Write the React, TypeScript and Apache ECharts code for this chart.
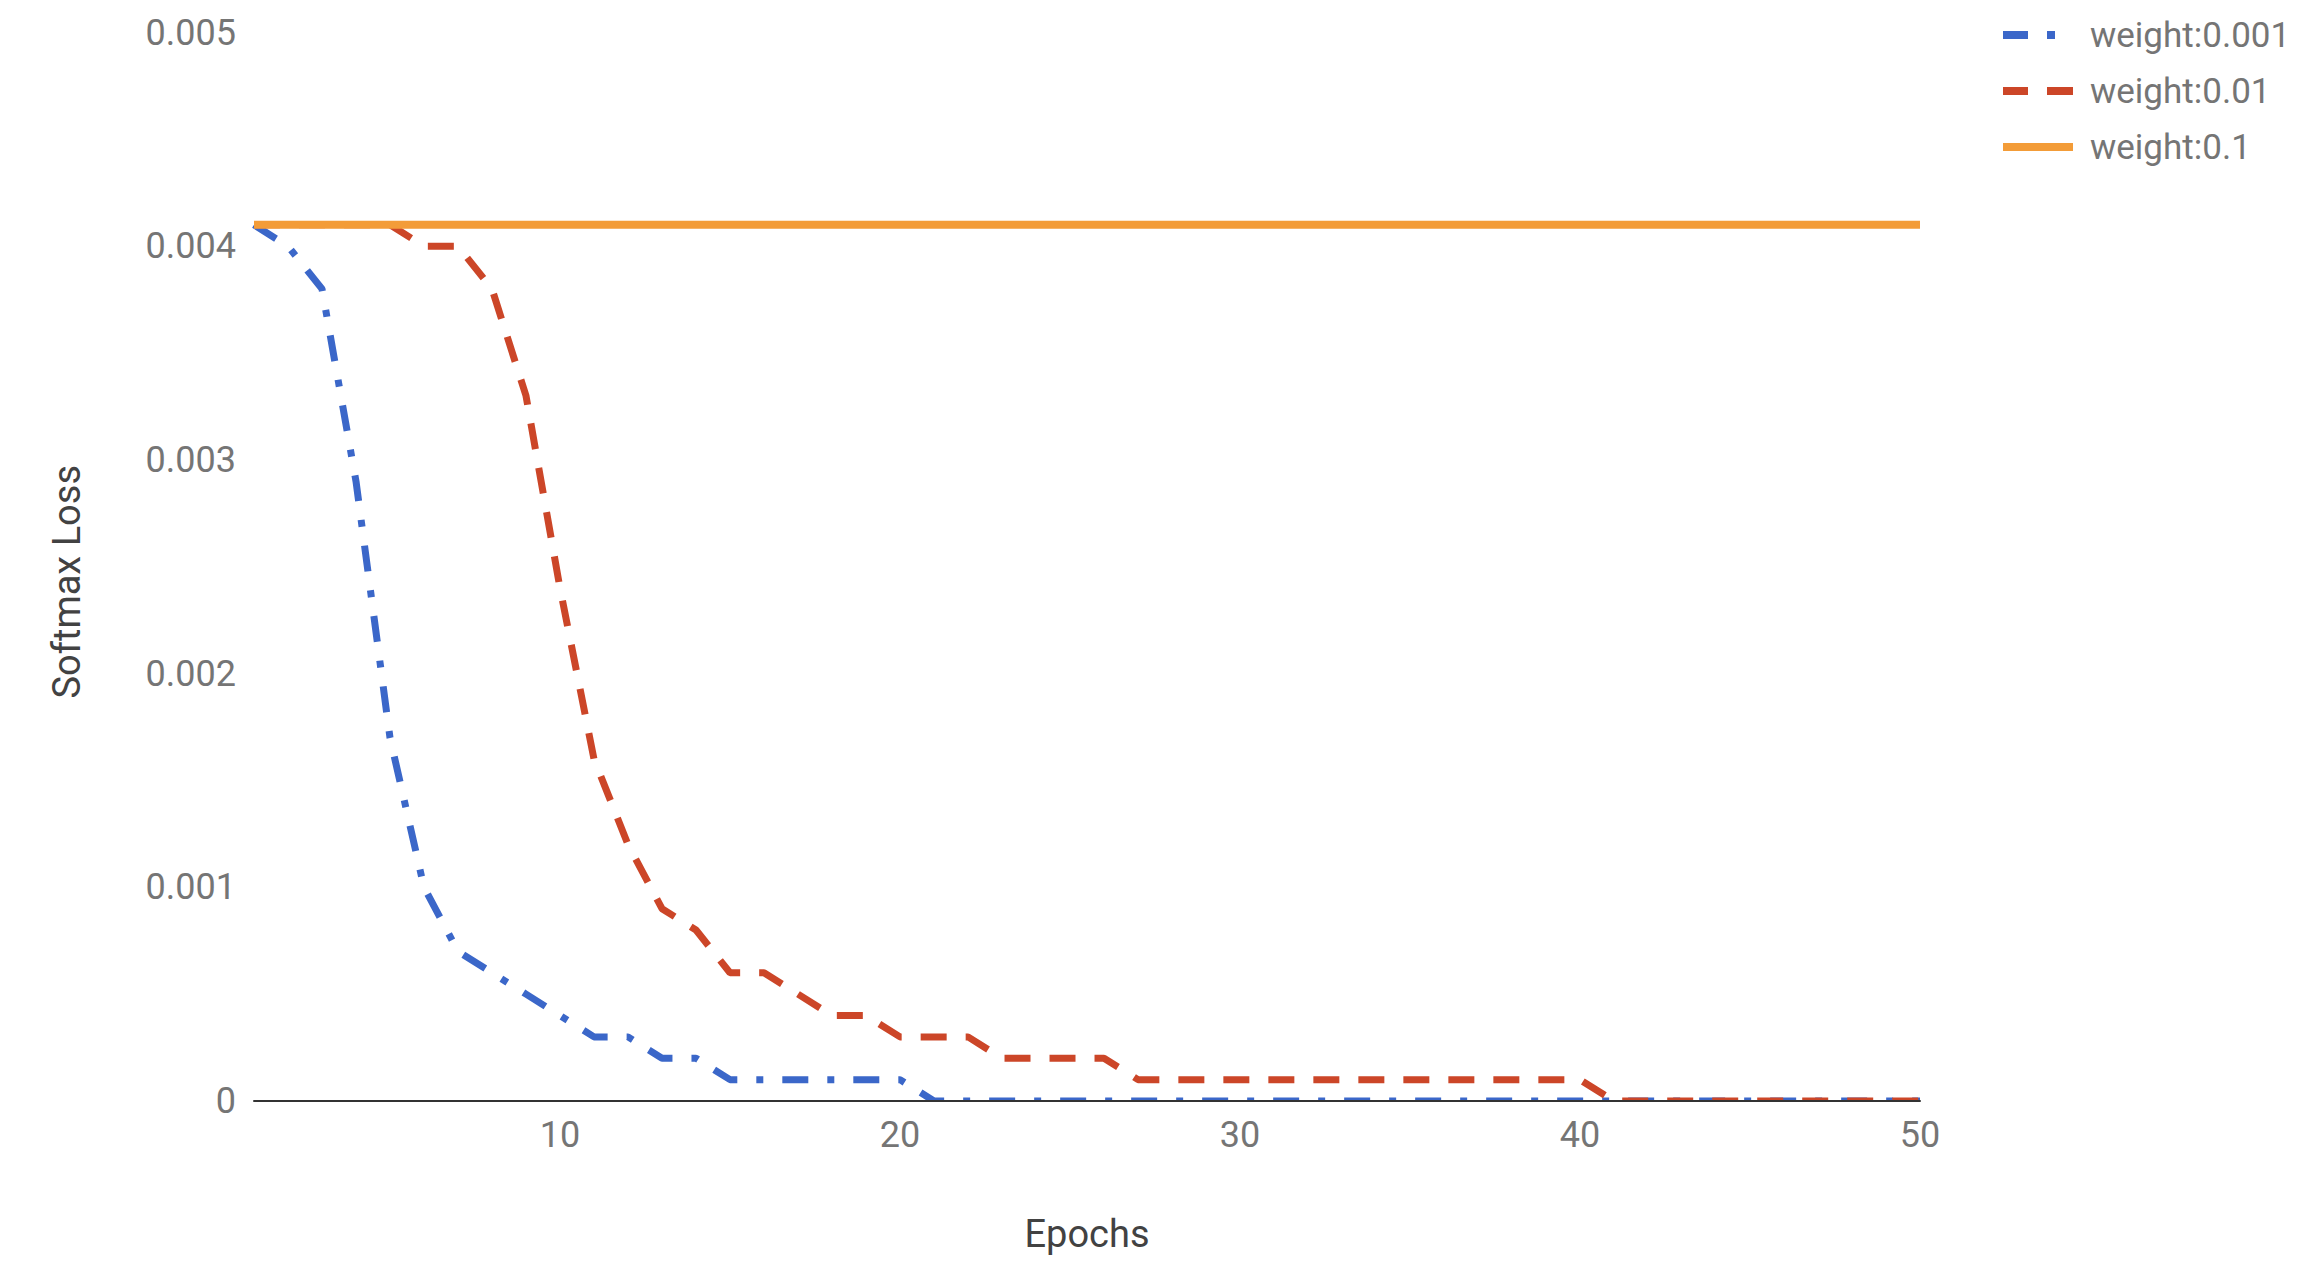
import React, { useEffect, useRef } from "react";
import * as echarts from "echarts";

const epochs = [
  "1", "2", "3", "4", "5", "6", "7", "8", "9", "10",
  "11", "12", "13", "14", "15", "16", "17", "18", "19", "20",
  "21", "22", "23", "24", "25", "26", "27", "28", "29", "30",
  "31", "32", "33", "34", "35", "36", "37", "38", "39", "40",
  "41", "42", "43", "44", "45", "46", "47", "48", "49", "50",
];

const seriesNames = ["weight:0.001", "weight:0.01", "weight:0.1"];

const lossW0001 = [
  0.0041, 0.004, 0.0038, 0.0029, 0.0017, 0.001, 0.0007, 0.0006, 0.0005, 0.0004,
  0.0003, 0.0003, 0.0002, 0.0002, 0.0001, 0.0001, 0.0001, 0.0001, 0.0001, 0.0001,
  0, 0, 0, 0, 0, 0, 0, 0, 0, 0,
  0, 0, 0, 0, 0, 0, 0, 0, 0, 0,
  0, 0, 0, 0, 0, 0, 0, 0, 0, 0,
];

const lossW001 = [
  0.0041, 0.0041, 0.0041, 0.0041, 0.0041, 0.004, 0.004, 0.0038, 0.0033, 0.0024,
  0.0016, 0.0012, 0.0009, 0.0008, 0.0006, 0.0006, 0.0005, 0.0004, 0.0004, 0.0003,
  0.0003, 0.0003, 0.0002, 0.0002, 0.0002, 0.0002, 0.0001, 0.0001, 0.0001, 0.0001,
  0.0001, 0.0001, 0.0001, 0.0001, 0.0001, 0.0001, 0.0001, 0.0001, 0.0001, 0.0001,
  0, 0, 0, 0, 0, 0, 0, 0, 0, 0,
];

const lossW01 = [
  0.0041, 0.0041, 0.0041, 0.0041, 0.0041, 0.0041, 0.0041, 0.0041, 0.0041, 0.0041,
  0.0041, 0.0041, 0.0041, 0.0041, 0.0041, 0.0041, 0.0041, 0.0041, 0.0041, 0.0041,
  0.0041, 0.0041, 0.0041, 0.0041, 0.0041, 0.0041, 0.0041, 0.0041, 0.0041, 0.0041,
  0.0041, 0.0041, 0.0041, 0.0041, 0.0041, 0.0041, 0.0041, 0.0041, 0.0041, 0.0041,
  0.0041, 0.0041, 0.0041, 0.0041, 0.0041, 0.0041, 0.0041, 0.0041, 0.0041, 0.0041,
];

const yMin = 0;
const yMax = 0.005;
const yStep = 0.001;
const xLabelEvery = 10;

const colors = ["#3b67c9", "#cc4628", "#f39c38"];
const dashTypes: (number[] | string)[] = [[26, 19, 7, 19], [26, 19], "solid"];
const lineWidths = [7, 7, 8];
const legendIcons = [
  "path://M0,0H25V8H0Z M44,0H52V8H44Z M70,0L70,8",
  "path://M0,0H25V8H0Z M44,0H70V8H44Z",
  "path://M0,0H70V8H0Z",
];

export default function App() {
  const ref = useRef<HTMLDivElement>(null);

  useEffect(() => {
    if (!ref.current) return;
    const chart = echarts.init(ref.current, null, { renderer: "svg" });
    const data = [lossW0001, lossW001, lossW01];
    chart.setOption({
      animation: false,
      backgroundColor: "#ffffff",
      textStyle: { fontFamily: "Roboto" },
      grid: { left: 254, right: 378, top: 32.5, bottom: 161, containLabel: false },
      legend: {
        orient: "vertical",
        left: 2003,
        top: 17,
        padding: 0,
        itemWidth: 70,
        itemHeight: 8,
        itemGap: 20,
        textStyle: {
          fontFamily: "Roboto",
          fontSize: 35,
          color: "#757575",
          lineHeight: 36,
          padding: [0, 0, 0, 12],
        },
        data: seriesNames.map((n, i) => ({
          name: n,
          icon: legendIcons[i],
          itemStyle: { color: colors[i], borderWidth: 0 },
        })),
      },
      xAxis: {
        type: "category",
        data: epochs,
        boundaryGap: false,
        name: "Epochs",
        nameLocation: "middle",
        nameGap: 114,
        nameTextStyle: { fontFamily: "Roboto", fontSize: 38, color: "#424242" },
        axisLine: { lineStyle: { color: "#333333", width: 2 } },
        axisTick: { show: false },
        axisLabel: {
          interval: (_i: number, v: string) => Number(v) % xLabelEvery === 0,
          fontFamily: "Roboto",
          fontSize: 36,
          color: "#757575",
          margin: 16,
        },
        splitLine: { show: false },
        z: 10,
      },
      yAxis: {
        type: "value",
        min: yMin,
        max: yMax,
        interval: yStep,
        name: "Softmax Loss",
        nameLocation: "middle",
        nameGap: 168,
        nameTextStyle: {
          fontFamily: "Roboto",
          fontSize: 38,
          color: "#424242",
          padding: [0, 30, 0, 0],
        },
        axisLine: { show: false },
        axisTick: { show: false },
        splitLine: { show: false },
        axisLabel: { fontFamily: "Roboto", fontSize: 36, color: "#757575", margin: 18 },
      },
      graphic: [
        {
          type: "rect",
          shape: { x: 250, y: 1101, width: 1690, height: 7 },
          style: { fill: "#ffffff" },
          z: 5,
          silent: true,
        },
      ],
      series: seriesNames.map((n, i) => ({
        name: n,
        type: "line",
        data: data[i],
        symbol: "none",
        showSymbol: false,
        color: colors[i],
        lineStyle: { color: colors[i], width: lineWidths[i], type: dashTypes[i] },
        itemStyle: { color: colors[i] },
      })),
    });
    return () => chart.dispose();
  }, []);

  return (
    <div
      ref={ref}
      style={{ position: "fixed", left: 0, top: 0, width: 2298, height: 1262, background: "#fff" }}
    />
  );
}
